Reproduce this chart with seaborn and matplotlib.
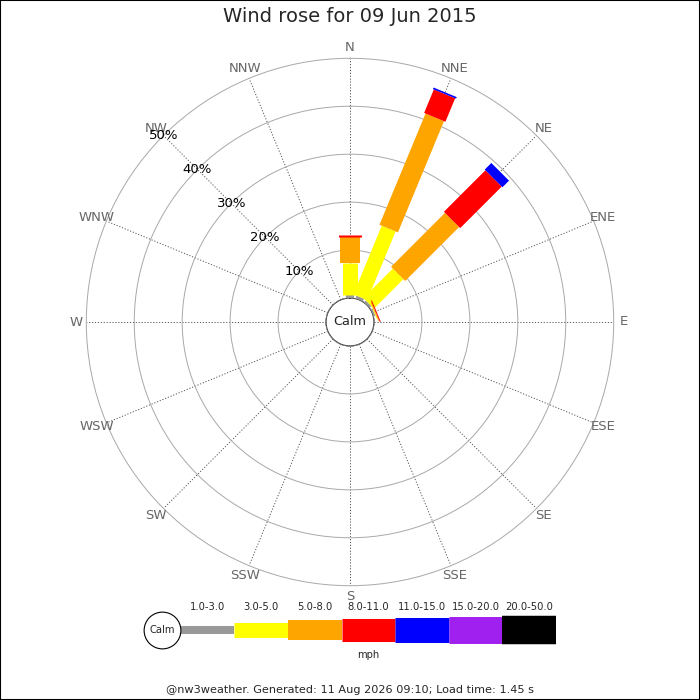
import numpy as np
import pandas as pd
import seaborn as sns
import matplotlib
matplotlib.use("Agg")
import matplotlib.pyplot as plt
from matplotlib.patches import Rectangle

directions = ["N", "NNE", "NE", "ENE", "E", "ESE", "SE", "SSE",
              "S", "SSW", "SW", "WSW", "W", "WNW", "NW", "NNW"]
speed_bins = ["1.0-3.0", "3.0-5.0", "5.0-8.0", "8.0-11.0",
              "11.0-15.0", "15.0-20.0", "20.0-50.0"]
bin_colors = ["#999999", "#ffff00", "#ffa500", "#ff0000",
              "#0000ff", "#a020f0", "#000000"]
# percent of the day per direction, one list per speed bin
pct_1_3 = [0.6, 0.6, 0.5, 0.4, 0, 0, 0, 0, 0, 0, 0, 0, 0, 0, 0, 0]
pct_3_5 = [6.8, 15.5, 8.7, 0.15, 0, 0, 0, 0, 0, 0, 0, 0, 0, 0, 0, 0]
pct_5_8 = [5.3, 25.1, 15.9, 0.2, 0, 0, 0, 0, 0, 0, 0, 0, 0, 0, 0, 0]
pct_8_11 = [0.5, 5.3, 12.25, 0.2, 0, 0, 0, 0, 0, 0, 0, 0, 0, 0, 0, 0]
pct_11_15 = [0, 0.35, 1.95, 0, 0, 0, 0, 0, 0, 0, 0, 0, 0, 0, 0, 0]
pct_15_20 = [0] * 16
pct_20_50 = [0] * 16
ring_pcts = [10, 20, 30, 40, 50]

title = "Wind rose for 09 Jun 2015"
footer = "@nw3weather. Generated: 11 Aug 2026 09:10; Load time: 1.45 s"

# bar thickness (points) per speed bin
bin_widths = [5.8, 10.8, 14.4, 16.6, 18.0, 19.4, 20.5]

sns.set_style("white")
plt.rcParams["font.family"] = ["DejaVu Sans"]

# long-form segments table: each stacked piece is a 2-point line
table = np.array([pct_1_3, pct_3_5, pct_5_8, pct_8_11,
                  pct_11_15, pct_15_20, pct_20_50])
cum = np.cumsum(table, axis=0)
rows = []
seg = 0
for d, name in enumerate(directions):
    theta = np.deg2rad(d * 22.5)
    for b, label in enumerate(speed_bins):
        if table[b, d] <= 0:
            continue
        start = cum[b, d] - table[b, d]
        rows.append({"seg": seg, "bin": label, "theta": theta, "r": start})
        rows.append({"seg": seg, "bin": label, "theta": theta, "r": cum[b, d]})
        seg += 1
segments = pd.DataFrame(rows)

fig = plt.figure(figsize=(7, 7), dpi=100)
ax = fig.add_axes([86.3 / 700, 114.3 / 700, 527.4 / 700, 527.4 / 700],
                  projection="polar")
ax.set_theta_zero_location("N")
ax.set_theta_direction(-1)
ax.set_rorigin(-5)
ax.set_ylim(0, 50)

ax.set_xticks(np.deg2rad(np.arange(16) * 22.5))
ax.set_xticklabels([])
ax.set_yticks([0] + ring_pcts[:-1])
ax.set_yticklabels([])
ax.xaxis.grid(True, color="#555555", linestyle=(0, (1.2, 1.8)), linewidth=0.7)
ax.yaxis.grid(True, color="#a8a8a8", linestyle="-", linewidth=0.7)
ax.spines["polar"].set_color("#a8a8a8")
ax.spines["polar"].set_linewidth(0.7)

for label, color, lw in zip(speed_bins, bin_colors, bin_widths):
    part = segments[segments["bin"] == label]
    if part.empty:
        continue
    sns.lineplot(data=part, x="theta", y="r", units="seg", estimator=None,
                 sort=False, color=color, linewidth=lw,
                 solid_capstyle="butt", ax=ax, zorder=3)
ax.set_xlabel("")
ax.set_ylabel("")

# calm circle
circ = np.linspace(0, 2 * np.pi, 200)
ax.plot(circ, np.zeros_like(circ), color="#999999", linewidth=0.8, zorder=4)
ax.text(0, -5, "Calm", ha="center", va="center", fontsize=9.3, zorder=5)

for d, name in enumerate(directions):
    ax.text(np.deg2rad(d * 22.5), 52.2, name, ha="center", va="center",
            color="#666666", fontsize=9.5)
for p in ring_pcts:
    ax.text(np.deg2rad(315), p, f"{p}%", ha="center", va="center",
            color="black", fontsize=9.5, zorder=5)

# legend strip
lax = fig.add_axes([180.7 / 700, 0.05, 375.3 / 700, 0.1])
lax.set_xlim(0, len(speed_bins))
lax.set_ylim(-35, 35)
lax.axis("off")
for i, (label, color, lw) in enumerate(zip(speed_bins, bin_colors, bin_widths)):
    lax.plot([i, i + 1], [0, 0], color=color, linewidth=lw,
             solid_capstyle="butt")
    lax.text(i + 0.5, 23, label, ha="center", va="center", fontsize=7.2)
lax.scatter([-0.343], [0], s=700, facecolor="white", edgecolor="black",
            linewidth=0.8, clip_on=False, zorder=5)
lax.text(-0.343, 0, "Calm", ha="center", va="center", fontsize=7.2, zorder=6)
lax.text(3.5, -25, "mph", ha="center", va="center", fontsize=7.2)

fig.text(0.5, 1 - 17 / 700, title, ha="center", va="center", fontsize=14)
fig.text(0.5, 10 / 700, footer, ha="center", va="center", fontsize=8.1)
fig.patches.append(Rectangle((0, 0), 1, 1, transform=fig.transFigure,
                             fill=False, edgecolor="black", linewidth=1.5))

fig.savefig("out.png", dpi=100)
